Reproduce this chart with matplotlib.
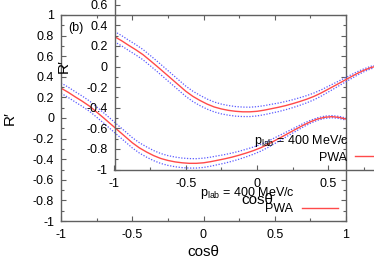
import matplotlib
matplotlib.use('Agg')
import matplotlib.pyplot as plt
from matplotlib.ticker import MultipleLocator, FuncFormatter

plt.rcParams['font.family'] = ['Liberation Sans', 'DejaVu Sans']
plt.rcParams['mathtext.fontset'] = 'custom'
plt.rcParams['mathtext.rm'] = 'Liberation Sans'
plt.rcParams['mathtext.it'] = 'Liberation Sans:italic'
plt.rcParams['axes.unicode_minus'] = False

# datos (panel b, R' vs cos theta)
cos_theta = [-1.0, -0.95, -0.9, -0.85, -0.8, -0.75, -0.7, -0.65, -0.6, -0.55, -0.5,
             -0.45, -0.4, -0.35, -0.3, -0.25, -0.2, -0.15, -0.1, -0.05, 0.0,
             0.05, 0.1, 0.15, 0.2, 0.25, 0.3, 0.35, 0.4, 0.45, 0.5,
             0.55, 0.6, 0.65, 0.7, 0.75, 0.8, 0.85, 0.9, 0.95, 1.0]
r_pwa = [0.29, 0.25, 0.205, 0.162, 0.115, 0.058, 0.0, -0.06, -0.12, -0.18, -0.24,
         -0.29, -0.33, -0.365, -0.393, -0.412, -0.426, -0.435, -0.44, -0.44, -0.435,
         -0.424, -0.41, -0.396, -0.38, -0.361, -0.34, -0.317, -0.29, -0.257, -0.22,
         -0.183, -0.145, -0.107, -0.07, -0.037, -0.01, 0.007, 0.013, 0.006, -0.01]
r_upper = [0.34, 0.30, 0.255, 0.212, 0.165, 0.108, 0.05, -0.01, -0.07, -0.13, -0.19,
           -0.24, -0.28, -0.316, -0.345, -0.365, -0.379, -0.389, -0.394, -0.395, -0.39,
           -0.38, -0.367, -0.355, -0.34, -0.323, -0.303, -0.282, -0.257, -0.227, -0.192,
           -0.158, -0.123, -0.088, -0.053, -0.023, 0.002, 0.018, 0.023, 0.016, 0.0]
r_lower = [0.24, 0.20, 0.155, 0.112, 0.065, 0.008, -0.05, -0.11, -0.17, -0.23, -0.29,
           -0.34, -0.38, -0.414, -0.441, -0.46, -0.473, -0.482, -0.486, -0.486, -0.48,
           -0.468, -0.453, -0.438, -0.42, -0.4, -0.377, -0.352, -0.323, -0.288, -0.248,
           -0.208, -0.167, -0.127, -0.087, -0.051, -0.022, -0.004, 0.003, -0.004, -0.02]

plab_label = 'p$_{\\rm lab}$ = 400 MeV/c'
panel_tag = '(b)'
curve_label = 'PWA'

fig = plt.figure(figsize=(3.74, 2.62), dpi=100)


def fmt(v, pos):
    return f'{round(v, 2):g}'


def draw_panel(ax):
    ax.set_facecolor('none')
    ax.plot(cos_theta, r_upper, color='#5a5aff', lw=0.9, ls=(0, (1, 1.3)))
    ax.plot(cos_theta, r_lower, color='#5a5aff', lw=0.9, ls=(0, (1, 1.3)))
    line, = ax.plot(cos_theta, r_pwa, color='#ff4a4a', lw=1.0)
    ax.set_xlim(-1, 1)
    ax.set_ylim(-1, 1)
    ax.xaxis.set_major_locator(MultipleLocator(0.5))
    ax.xaxis.set_minor_locator(MultipleLocator(0.25))
    ax.yaxis.set_major_locator(MultipleLocator(0.2))
    ax.yaxis.set_minor_locator(MultipleLocator(0.1))
    ax.xaxis.set_major_formatter(FuncFormatter(fmt))
    ax.yaxis.set_major_formatter(FuncFormatter(fmt))
    ax.tick_params(which='both', direction='in', top=True, right=True,
                   color='#606060', labelsize=9, width=0.8)
    ax.tick_params(which='major', length=3.5)
    ax.tick_params(which='minor', length=2.5)
    ax.tick_params(axis='x', pad=6)
    ax.tick_params(axis='y', pad=5)
    for s in ax.spines.values():
        s.set_color('#606060')
        s.set_linewidth(1.0)
    ax.set_xlabel('cosθ', fontsize=11)
    ax.xaxis.set_label_coords(0.5, -0.115)
    ax.set_ylabel('R′', fontsize=11)
    ax.yaxis.set_label_coords(-0.155, 0.5)
    ax.text(0.025, 0.965, panel_tag, transform=ax.transAxes, ha='left', va='top', fontsize=9)
    ax.text(0.821, 0.136, plab_label, transform=ax.transAxes, ha='right', va='center', fontsize=9)
    ax.legend([line], [curve_label], loc='center right', bbox_to_anchor=(0.972, 0.058),
              frameon=False, markerfirst=False, borderpad=0, borderaxespad=0,
              handlelength=2.9, handletextpad=0.7, fontsize=9)


# panel principal y copia desplazada encima
ax1 = fig.add_axes([61 / 374, 41 / 262, 285 / 374, 206 / 262])
draw_panel(ax1)
ax2 = fig.add_axes([114.5 / 374, 92.5 / 262, 285 / 374, 206 / 262])
draw_panel(ax2)

fig.savefig('out.png', dpi=100)
